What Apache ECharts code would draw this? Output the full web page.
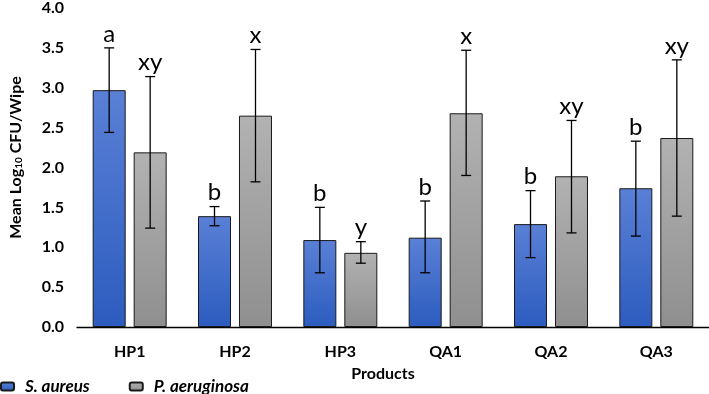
<!DOCTYPE html>
<html>
<head>
<meta charset="utf-8">
<script src="https://cdn.jsdelivr.net/npm/echarts@6/dist/echarts.min.js"></script>
<style>
  html, body { margin: 0; padding: 0; background: #fff; }
  #chart { width: 709px; height: 394px; }
</style>
</head>
<body>
<div id="chart"></div>
<script>
const products = ['HP1', 'HP2', 'HP3', 'QA1', 'QA2', 'QA3']

const aureusMean = [2.97, 1.39, 1.09, 1.12, 1.29, 1.74]
const aureusLow = [2.44, 1.27, 0.68, 0.68, 0.87, 1.14]
const aureusHigh = [3.50, 1.51, 1.50, 1.58, 1.71, 2.33]
const aureusLetters = ['a', 'b', 'b', 'b', 'b', 'b']

const aeruginosaMean = [2.19, 2.65, 0.93, 2.68, 1.89, 2.37]
const aeruginosaLow = [1.24, 1.82, 0.80, 1.90, 1.18, 1.39]
const aeruginosaHigh = [3.14, 3.48, 1.07, 3.47, 2.59, 3.35]
const aeruginosaLetters = ['xy', 'x', 'y', 'x', 'xy', 'xy']

const yTicks = ['0.0', '0.5', '1.0', '1.5', '2.0', '2.5', '3.0', '3.5', '4.0']

const FONT = 'Lato'
const BAR_W = 33
const BAR_GAP = 8
const OFFSET = (BAR_W + BAR_GAP) / 2

const chart = echarts.init(document.getElementById('chart'), null, { renderer: 'canvas' })

function gradient(top, bottom) {
  return new echarts.graphic.LinearGradient(0, 0, 0, 1, [
    { offset: 0, color: top },
    { offset: 1, color: bottom },
  ])
}

// error bars and significance letters, drawn over each bar of one series
function errorSeries(name, low, high, letters, shift) {
  return {
    name: name,
    type: 'custom',
    z: 5,
    silent: true,
    encode: { x: 0, y: [1, 2] },
    data: low.map((v, i) => [i, v, high[i]]),
    renderItem: (params, api) => {
      const lo = api.coord([api.value(0), api.value(1)])
      const hi = api.coord([api.value(0), api.value(2)])
      const x = lo[0] + shift
      const cap = 5
      const style = { stroke: '#000', lineWidth: 1.3 }
      return {
        type: 'group',
        children: [
          { type: 'line', shape: { x1: x, y1: hi[1], x2: x, y2: lo[1] }, style },
          { type: 'line', shape: { x1: x - cap, y1: hi[1], x2: x + cap, y2: hi[1] }, style },
          { type: 'line', shape: { x1: x - cap, y1: lo[1], x2: x + cap, y2: lo[1] }, style },
          {
            type: 'text',
            x: x,
            y: hi[1] - 2,
            style: {
              text: letters[params.dataIndex],
              fill: '#000',
              font: '24px ' + FONT,
              align: 'center',
              verticalAlign: 'bottom',
            },
          },
        ],
      }
    },
  }
}

const option = {
  animation: false,
  backgroundColor: '#fff',
  textStyle: { fontFamily: FONT },
  grid: { left: 72, right: -1, top: 7, bottom: 67 },
  legend: {
    left: 0,
    top: 378,
    padding: 0,
    itemWidth: 13,
    itemHeight: 8,
    itemGap: 39,
    data: ['S. aureus', 'P. aeruginosa'],
    textStyle: {
      fontFamily: FONT,
      fontSize: 17,
      fontWeight: 'bold',
      fontStyle: 'italic',
      color: '#000',
      padding: [0, 0, 0, 6],
    },
  },
  xAxis: {
    type: 'category',
    data: products,
    name: 'Products',
    nameLocation: 'middle',
    nameGap: 39,
    nameTextStyle: { fontFamily: FONT, fontSize: 16, fontWeight: 'bold', color: '#000', padding: [0, 20, 0, 0] },
    axisLine: { lineStyle: { color: '#000', width: 1.3 } },
    axisTick: { show: false },
    axisLabel: { margin: 17, fontFamily: FONT, fontSize: 16, fontWeight: 'bold', color: '#000' },
  },
  yAxis: {
    type: 'value',
    min: 0,
    max: 4,
    interval: 0.5,
    name: '{n|Mean Log}{s|10}{n| CFU/Wipe}',
    nameLocation: 'middle',
    nameGap: 53,
    nameTextStyle: {
      padding: [0, 0, 0, 20],
      rich: {
        n: { fontFamily: FONT, fontSize: 16, fontWeight: 'bold', color: '#000' },
        s: { fontFamily: FONT, fontSize: 10, fontWeight: 'bold', color: '#000', verticalAlign: 'bottom', padding: [6, 0, 0, 0] },
      },
    },
    axisLine: { show: false },
    axisTick: { show: false },
    splitLine: { show: false },
    axisLabel: {
      margin: 13,
      fontFamily: FONT,
      fontSize: 16,
      fontWeight: 'bold',
      color: '#000',
      formatter: (v) => yTicks[Math.round(v / 0.5)],
    },
  },
  series: [
    {
      name: 'S. aureus',
      type: 'bar',
      barWidth: BAR_W,
      barGap: (BAR_GAP / BAR_W * 100).toFixed(1) + '%',
      data: aureusMean,
      itemStyle: {
        color: gradient('#5a80d6', '#2c5cbf'),
        borderColor: '#1a1a1a',
        borderWidth: 1,
      },
    },
    {
      name: 'P. aeruginosa',
      type: 'bar',
      barWidth: BAR_W,
      data: aeruginosaMean,
      itemStyle: {
        color: gradient('#b2b2b2', '#8f8f8f'),
        borderColor: '#1a1a1a',
        borderWidth: 1,
      },
    },
    errorSeries('S. aureus err', aureusLow, aureusHigh, aureusLetters, -OFFSET),
    errorSeries('P. aeruginosa err', aeruginosaLow, aeruginosaHigh, aeruginosaLetters, OFFSET),
  ],
}

chart.setOption(option)
</script>
</body>
</html>
